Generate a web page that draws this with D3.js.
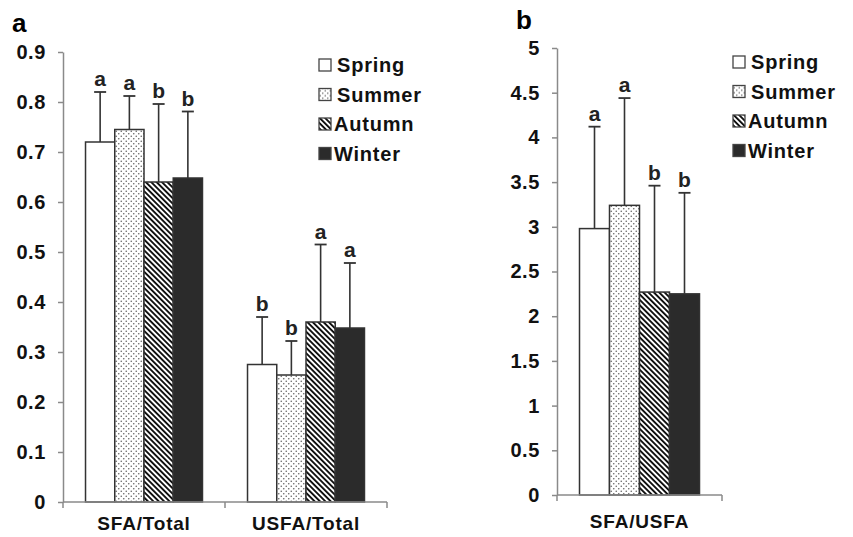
<!DOCTYPE html>
<html>
<head>
<meta charset="utf-8">
<script src="https://cdn.jsdelivr.net/npm/d3@7"></script>
<style>
  html, body { margin: 0; padding: 0; background: #fff; }
  svg { display: block; font-family: "Liberation Sans", Arial, sans-serif; }
</style>
</head>
<body>
<svg id="chart" width="853" height="537"></svg>
<script>
(function () {
  'use strict';

  // ---- data ----
  const SEASONS = ['Spring', 'Summer', 'Autumn', 'Winter'];

  const A_GROUPS = ['SFA/Total', 'USFA/Total'];
  const A_MEANS = [
    [0.72, 0.745, 0.64, 0.648],
    [0.275, 0.254, 0.36, 0.348]
  ];
  const A_UPPER = [
    [0.82, 0.812, 0.796, 0.781],
    [0.37, 0.322, 0.515, 0.478]
  ];
  const A_LETTERS = [
    ['a', 'a', 'b', 'b'],
    ['b', 'b', 'a', 'a']
  ];
  const A_TICKS = [0, 0.1, 0.2, 0.3, 0.4, 0.5, 0.6, 0.7, 0.8, 0.9];
  const A_TICK_LABELS = ['0', '0.1', '0.2', '0.3', '0.4', '0.5', '0.6', '0.7', '0.8', '0.9'];

  const B_GROUPS = ['SFA/USFA'];
  const B_MEANS = [[2.98, 3.24, 2.27, 2.25]];
  const B_UPPER = [[4.12, 4.44, 3.46, 3.38]];
  const B_LETTERS = [['a', 'a', 'b', 'b']];
  const B_TICKS = [0, 0.5, 1, 1.5, 2, 2.5, 3, 3.5, 4, 4.5, 5];
  const B_TICK_LABELS = ['0', '0.5', '1', '1.5', '2', '2.5', '3', '3.5', '4', '4.5', '5'];

  const FILLS = ['#fff', 'url(#dots)', 'url(#stripes)', '#2b2b2b'];
  const BAR_STROKE = '#333';
  const AXIS_COLOR = '#8a8a8a';

  const svg = d3.select('#chart');

  // ---- patterns ----
  const defs = svg.append('defs');
  const dots = defs.append('pattern')
    .attr('id', 'dots').attr('patternUnits', 'userSpaceOnUse')
    .attr('width', 5).attr('height', 5);
  dots.append('rect').attr('width', 5).attr('height', 5).attr('fill', '#fff');
  dots.append('circle').attr('cx', 1.25).attr('cy', 1.25).attr('r', 0.8).attr('fill', '#666');
  dots.append('circle').attr('cx', 3.75).attr('cy', 3.75).attr('r', 0.8).attr('fill', '#666');

  const stripes = defs.append('pattern')
    .attr('id', 'stripes').attr('patternUnits', 'userSpaceOnUse')
    .attr('width', 3.8).attr('height', 10)
    .attr('patternTransform', 'rotate(-45)');
  stripes.append('rect').attr('width', 3.8).attr('height', 10).attr('fill', '#fff');
  stripes.append('rect').attr('width', 1.9).attr('height', 10).attr('fill', '#111');

  function drawPanel(opts) {
    const g = svg.append('g');
    const y = d3.scaleLinear().domain(opts.yDomain).range(opts.yRange);
    const x0 = d3.scaleBand().domain(opts.groups).range(opts.xRange)
      .paddingInner(0).paddingOuter(0);
    const x1 = d3.scaleBand().domain(SEASONS).range([0, x0.bandwidth()])
      .paddingInner(0).paddingOuter(opts.outerPad);

    // y axis
    const yAxis = d3.axisLeft(y)
      .tickValues(opts.ticks)
      .tickFormat((d, i) => opts.tickLabels[i])
      .tickSizeInner(5).tickSizeOuter(0).tickPadding(12);
    const ya = g.append('g')
      .attr('transform', `translate(${opts.xRange[0]},0)`)
      .call(yAxis);
    ya.select('.domain').attr('stroke', AXIS_COLOR).attr('stroke-width', 1.5);
    ya.selectAll('.tick line').attr('stroke', AXIS_COLOR).attr('stroke-width', 1.5);
    ya.selectAll('.tick text')
      .attr('fill', '#111').style('font-size', '20px').style('font-weight', 'bold')
      .style('letter-spacing', '0.6px')
      .style('font-family', '"Liberation Sans", Arial, sans-serif');

    // bars
    opts.groups.forEach((grp, gi) => {
      const gx = x0(grp);
      SEASONS.forEach((s, si) => {
        const bx = gx + x1(s);
        const bw = x1.bandwidth();
        const v = opts.means[gi][si];
        const up = opts.upper[gi][si];
        const cx = bx + bw / 2;

        g.append('line')
          .attr('x1', cx).attr('x2', cx)
          .attr('y1', y(v)).attr('y2', y(up))
          .attr('stroke', BAR_STROKE).attr('stroke-width', 1.6);
        g.append('line')
          .attr('x1', cx - 6).attr('x2', cx + 6)
          .attr('y1', y(up)).attr('y2', y(up))
          .attr('stroke', BAR_STROKE).attr('stroke-width', 1.8);

        g.append('rect')
          .attr('x', bx).attr('y', y(v))
          .attr('width', bw).attr('height', y(0) - y(v))
          .attr('fill', FILLS[si])
          .attr('stroke', BAR_STROKE).attr('stroke-width', 1.5);

        g.append('text')
          .attr('x', cx).attr('y', y(up) - 6)
          .attr('text-anchor', 'middle')
          .attr('fill', '#222')
          .style('font-size', '21px').style('font-weight', 'bold')
          .text(opts.letters[gi][si]);
      });
    });

    // x axis: baseline plus ticks at category boundaries
    const y0 = y(0);
    g.append('line')
      .attr('x1', opts.xRange[0]).attr('x2', opts.xRange[1])
      .attr('y1', y0).attr('y2', y0)
      .attr('stroke', AXIS_COLOR).attr('stroke-width', 1.5);
    const bounds = opts.groups.map(d => x0(d)).concat([opts.xRange[1]]);
    g.selectAll('line.xtick').data(bounds).join('line')
      .attr('class', 'xtick')
      .attr('x1', d => d).attr('x2', d => d)
      .attr('y1', y0).attr('y2', y0 + 6)
      .attr('stroke', AXIS_COLOR).attr('stroke-width', 1.5);
    g.selectAll('text.xlab').data(opts.groups).join('text')
      .attr('class', 'xlab')
      .attr('x', d => x0(d) + x0.bandwidth() / 2)
      .attr('y', y0 + opts.xLabelDy)
      .attr('text-anchor', 'middle')
      .attr('fill', '#111')
      .style('font-size', '19px').style('font-weight', 'bold')
      .style('letter-spacing', '0.8px')
      .text(d => d);

    // panel letter
    g.append('text')
      .attr('x', opts.label[0]).attr('y', opts.label[1])
      .attr('fill', '#000')
      .style('font-size', '26px').style('font-weight', 'bold')
      .text(opts.labelText);

    // legend
    const lg = g.append('g').attr('transform', `translate(${opts.legend[0]},${opts.legend[1]})`);
    SEASONS.forEach((s, si) => {
      const row = lg.append('g').attr('transform', `translate(0,${si * 29.5})`);
      row.append('rect')
        .attr('x', 0).attr('y', -6).attr('width', 12).attr('height', 12)
        .attr('fill', FILLS[si]).attr('stroke', '#444').attr('stroke-width', 1.3);
      row.append('text')
        .attr('x', si >= 2 ? 15 : 18).attr('y', 0).attr('dy', '0.36em')
        .attr('fill', '#111')
        .style('font-size', '20px').style('font-weight', 'bold')
        .style('letter-spacing', '0.8px')
        .text(s);
    });
  }

  drawPanel({
    groups: A_GROUPS, means: A_MEANS, upper: A_UPPER, letters: A_LETTERS,
    ticks: A_TICKS, tickLabels: A_TICK_LABELS,
    yDomain: [0, 0.9], yRange: [502, 52],
    xRange: [63, 387], outerPad: 0.77, xLabelDy: 28,
    label: [12, 32], labelText: 'a',
    legend: [319, 65]
  });

  drawPanel({
    groups: B_GROUPS, means: B_MEANS, upper: B_UPPER, letters: B_LETTERS,
    ticks: B_TICKS, tickLabels: B_TICK_LABELS,
    yDomain: [0, 5], yRange: [495, 48],
    xRange: [557, 722], outerPad: 0.75, xLabelDy: 33,
    label: [516, 29], labelText: 'b',
    legend: [733, 62]
  });
})();
</script>
</body>
</html>
